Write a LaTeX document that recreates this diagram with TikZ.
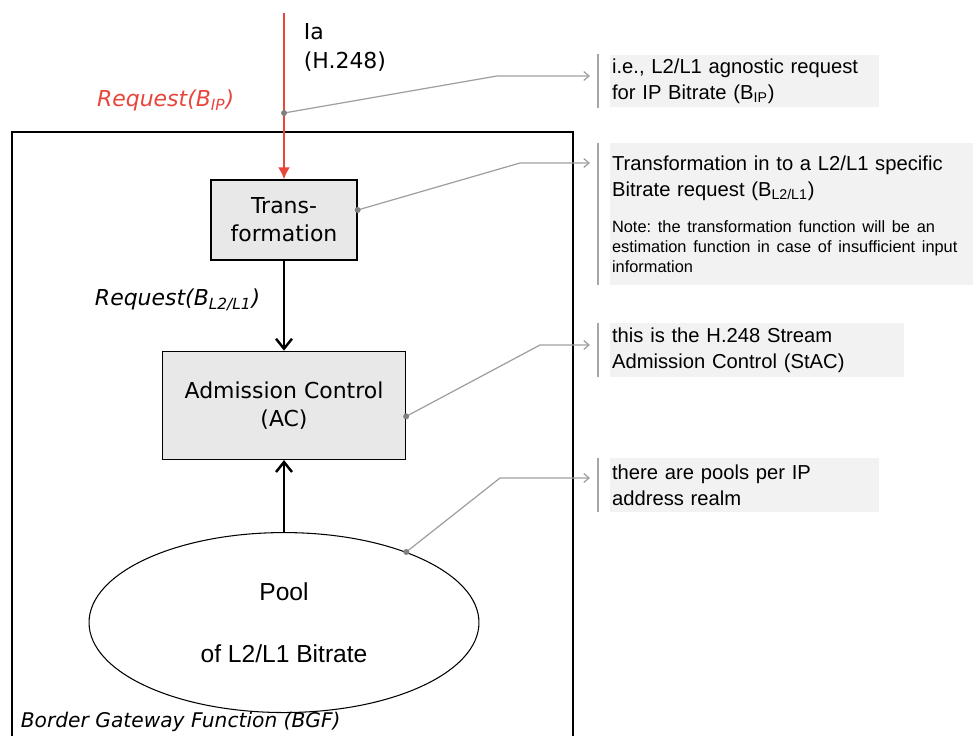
\documentclass[tikz,border=0pt]{standalone}
\usepackage{fontspec}
\setmainfont{DejaVu Sans}
\newfontfamily\notefont{Liberation Sans}
\usetikzlibrary{positioning,arrows.meta,calc,shapes.geometric}

\definecolor{reqred}{HTML}{E8453C}
\definecolor{boxgray}{HTML}{E8E8E8}
\definecolor{notegray}{HTML}{F2F2F2}

\begin{document}
\begin{tikzpicture}[
    x=0.02cm, y=-0.02cm,
    every node/.style={inner sep=2pt},
    funcbox/.style={draw, line width=0.8pt, fill=boxgray, align=center,
        font=\fontsize{12.5}{16}\selectfont},
    notebox/.style={fill=notegray, anchor=west, align=left, inner xsep=1pt,
        font=\notefont\frenchspacing\fontsize{11.5}{15}\selectfont},
    callout/.style={draw=gray!75, line width=0.7pt, -{Straight Barb[length=3pt,width=5pt]}},
    bracket/.style={draw=gray!70, line width=0.8pt},
    calldot/.style={circle, fill=gray, inner sep=0pt, minimum size=0.12cm},
    flow/.style={line width=1.4pt, -{Straight Barb[length=0.2cm,width=0.32cm]}}
]
\useasboundingbox (0,0) rectangle (973,736);
\clip (0,0) rectangle (973,736);

% Rahmen der BGF
\draw[line width=0.8pt] (12,132) rectangle (573,760);
\node[anchor=west, font=\itshape\fontsize{11.5}{14}\selectfont] (bgf) at (17,722)
    {Border Gateway Function (BGF)};

% Funktionsblöcke
\node[funcbox, minimum width=2.92cm, minimum height=1.6cm] (trans) at (284,220)
    {Trans-\\formation};

\node[funcbox, minimum width=4.86cm, minimum height=2.16cm, below=1.8cm of trans] (ac)
    {Admission Control\\(AC)};

\node[draw, ellipse, line width=0.6pt, minimum width=7.8cm, minimum height=3.6cm,
    below=1.44cm of ac, align=center,
    font=\notefont\fontsize{14}{35}\selectfont] (pool)
    {Pool\\of L2/L1 Bitrate};

% Schnittstelle Ia
\coordinate (iaTop) at (284,13);
\draw[reqred, line width=1.1pt, -{Latex[length=0.24cm,width=0.24cm]}] (iaTop) -- (trans.north);

\node[anchor=west, align=left, font=\fontsize{12.5}{16.5}\selectfont] (ia) at (300,47)
    {Ia\\(H.248)};

\node[anchor=east, text=reqred, font=\itshape\fontsize{12.5}{15}\selectfont] (reqIP) at (238,100)
    {Request(B\textsubscript{IP})};

% Pfeile
\draw[flow] (trans) -- (ac);
\draw[flow] (pool) -- (ac);

\node[anchor=east, font=\itshape\fontsize{12.5}{15}\selectfont] (reqL) at (264,300)
    {Request(B\textsubscript{L2/L1})};

% Anmerkungen
\node[notebox, text width=5.3cm, minimum height=1.06cm] (noteIP) at (610,81)
    {i.e., L2/L1 agnostic request\\for IP Bitrate (B\textsubscript{IP})};

\node[notebox, text width=7.3cm, minimum height=2.84cm] (noteTrans) at (610,214)
    {Transformation in to a L2/L1 specific\\Bitrate request (B\textsubscript{L2/L1})\par
    \vspace{9pt}
    {\fontsize{9.3}{11.4}\selectfont Note: the transformation function will be an\\
    estimation function in case of insufficient input\\information\par}};

\node[notebox, text width=5.8cm, minimum height=1.08cm] (noteAC) at (610,350)
    {this is the H.248 Stream\\Admission Control (StAC)};

\node[notebox, text width=5.3cm, minimum height=1.08cm] (notePool) at (610,485)
    {there are pools per IP\\address realm};

% Klammern vor den Anmerkungen
\foreach \n in {noteIP,noteTrans,noteAC,notePool}
    \draw[bracket] ($(\n.north west)+(-12,0)$) -- ($(\n.south west)+(-12,0)$);

% Verbindungen zu den Anmerkungen
\coordinate (dotIP) at (284,113);
\coordinate (dotTrans) at ($(trans.east)+(0,-10)$);
\coordinate (dotAC) at ($(ac.east)+(0,11)$);
\coordinate (dotPool) at (pool.30);

\coordinate (kIP) at (497,76);
\coordinate (kTrans) at (520,163);
\coordinate (kAC) at (540,345);
\coordinate (kPool) at (500,478);

\draw[callout] (dotIP) -- (kIP) -- ($(kIP -| noteIP.west)+(-20,0)$);
\draw[callout] (dotTrans) -- (kTrans) -- ($(kTrans -| noteTrans.west)+(-20,0)$);
\draw[callout] (dotAC) -- (kAC) -- ($(kAC -| noteAC.west)+(-20,0)$);
\draw[callout] (dotPool) -- (kPool) -- ($(kPool -| notePool.west)+(-20,0)$);

\foreach \d in {dotIP,dotTrans,dotAC,dotPool}
    \node[calldot] at (\d) {};

\end{tikzpicture}
\end{document}
